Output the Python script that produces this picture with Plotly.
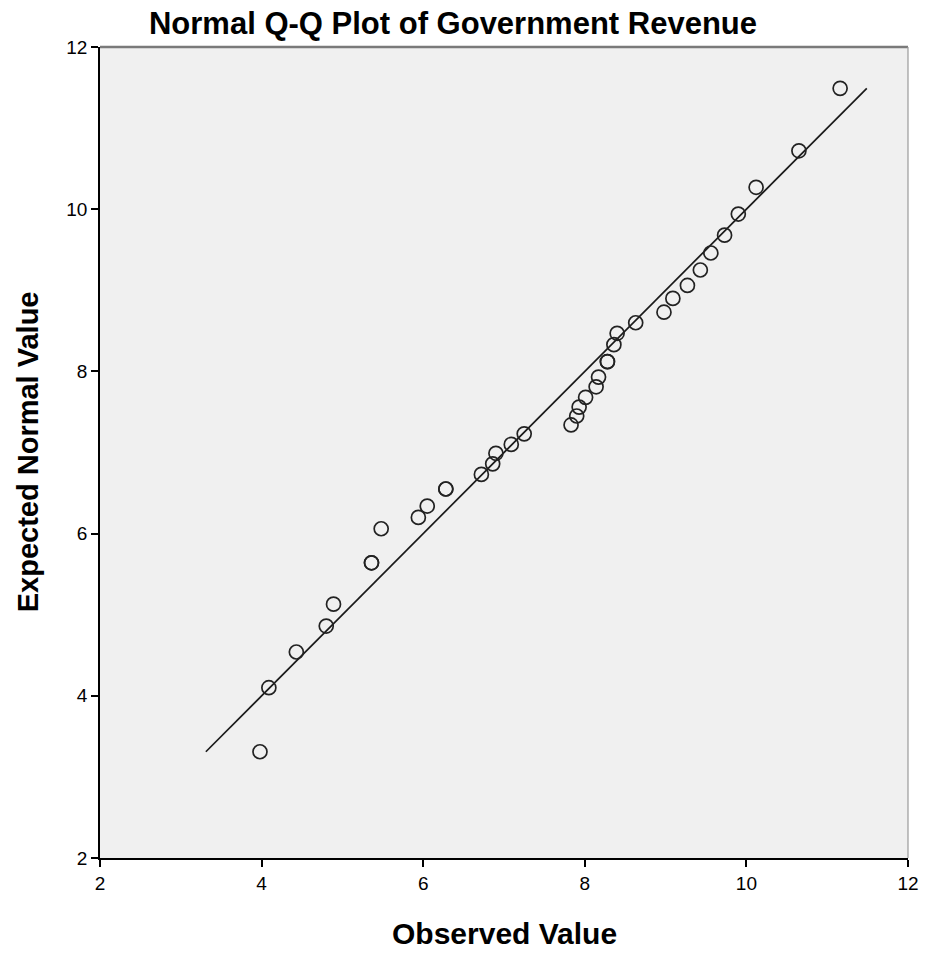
import plotly.graph_objects as go

# Observed values (x) and their expected normal quantiles (y)
observed = [3.98, 4.09, 4.43, 4.80, 4.89, 5.36, 5.36, 5.48, 5.94, 6.05,
            6.28, 6.28, 6.72, 6.86, 6.90, 7.09, 7.25, 7.83, 7.90, 7.93,
            8.01, 8.14, 8.17, 8.28, 8.28, 8.36, 8.40, 8.63, 8.98, 9.09,
            9.27, 9.43, 9.56, 9.73, 9.90, 10.12, 10.65, 11.16]
expected = [3.31, 4.10, 4.54, 4.86, 5.13, 5.64, 5.64, 6.06, 6.20, 6.34,
            6.55, 6.55, 6.73, 6.86, 6.99, 7.10, 7.23, 7.34, 7.45, 7.56,
            7.68, 7.81, 7.93, 8.12, 8.12, 8.33, 8.47, 8.60, 8.73, 8.90,
            9.06, 9.25, 9.46, 9.68, 9.94, 10.27, 10.72, 11.49]

# Reference line y = x spanning the range of expected values
ref_line = [min(expected), max(expected)]

tick_vals = [2, 4, 6, 8, 10, 12]
tick_text = ["2", "4", "6", "8", "10", "12"]

W, H = 931, 953
font_family = "Liberation Sans, Arial, sans-serif"

fig = go.Figure()
fig.add_trace(go.Scatter(
    x=ref_line, y=ref_line, mode="lines",
    line=dict(color="#1a1a1a", width=1.7),
    hoverinfo="skip", showlegend=False,
))
fig.add_trace(go.Scatter(
    x=observed, y=expected, mode="markers",
    marker=dict(symbol="circle-open", size=14, color="#222222",
                line=dict(width=1.7, color="#222222")),
    showlegend=False,
))

axis_common = dict(
    range=[2, 12], tickvals=tick_vals, ticktext=tick_text,
    showgrid=False, zeroline=False,
    showline=True, linecolor="#000000", linewidth=1.5,
    ticks="outside", ticklen=7, tickwidth=1.5, tickcolor="#000000",
    tickfont=dict(family=font_family, size=19, color="#000000"),
)

fig.update_layout(
    width=W, height=H,
    margin=dict(l=100, r=20, t=47, b=95),
    paper_bgcolor="#ffffff", plot_bgcolor="#f0f0f0",
    title=dict(
        text="<b>Normal Q-Q Plot of Government Revenue</b>",
        x=453 / W, xanchor="center", y=1 - 23 / H, yanchor="middle",
        font=dict(family=font_family, size=31, color="#000000"),
    ),
    xaxis=dict(**axis_common),
    yaxis=dict(**axis_common),
)

# Axis titles placed in pixel terms around the plotting area
fig.add_annotation(
    text="<b>Observed Value</b>", xref="paper", yref="paper",
    x=0.5, y=-(933 - 858) / (H - 47 - 95), xanchor="center", yanchor="middle",
    showarrow=False, font=dict(family=font_family, size=30, color="#000000"),
)
fig.add_annotation(
    text="<b>Expected Normal Value</b>", xref="paper", yref="paper",
    x=-(100 - 28) / (W - 100 - 20), y=(858 - 452) / (H - 47 - 95),
    xanchor="center", yanchor="middle", textangle=-90,
    showarrow=False, font=dict(family=font_family, size=29, color="#000000"),
)

# Light frame on the top and right edges of the plotting area
fig.add_shape(type="line", xref="paper", yref="paper", x0=0, x1=1, y0=1, y1=1,
              line=dict(color="#7a7a7a", width=2.5))
fig.add_shape(type="line", xref="paper", yref="paper", x0=1, x1=1, y0=0, y1=1,
              line=dict(color="#9a9a9a", width=1.2))

fig.write_html("out.html")
